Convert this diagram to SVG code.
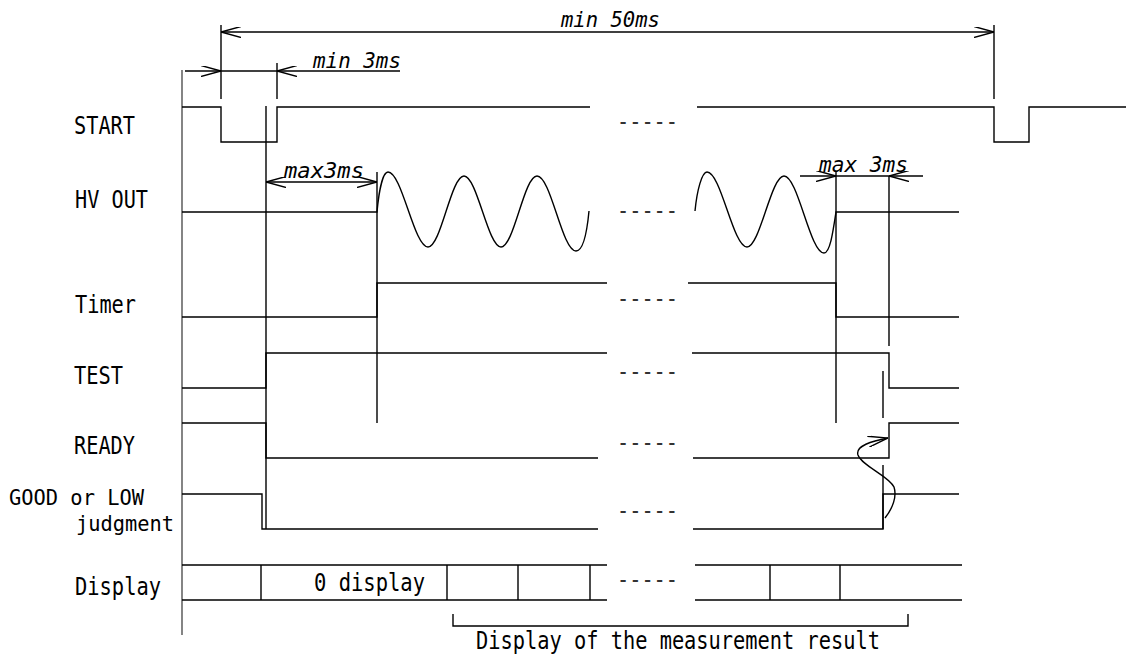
<svg xmlns="http://www.w3.org/2000/svg" width="1126" height="657" viewBox="0 0 1126 657">
<style>
.ln{fill:none;stroke:#000;stroke-width:1.4}
.ax{fill:none;stroke:#666;stroke-width:1.6}
.lbl{font-family:"DejaVu Sans Mono","Liberation Mono",monospace;font-size:24px;fill:#000}
.lbs{font-family:"DejaVu Sans Mono","Liberation Mono",monospace;font-size:22px;fill:#000}
.dim{font-family:"DejaVu Sans Mono","Liberation Mono",monospace;font-size:20.5px;font-style:italic;fill:#000}
.brk{font-family:"DejaVu Sans Mono","Liberation Mono",monospace;font-size:24px;fill:#333}
</style>
<defs>
<marker id="arr" viewBox="0 0 20 11" refX="20" refY="5.5" markerWidth="20" markerHeight="11" markerUnits="userSpaceOnUse" orient="auto-start-reverse">
<path d="M0,0 L20,5.5 L0,11" fill="none" stroke="#000" stroke-width="1.4"/>
</marker>
</defs>
<rect width="1126" height="657" fill="#fff"/>

<g id="labels">
<text class="lbl" x="74" y="134" textLength="61" lengthAdjust="spacingAndGlyphs">START</text>
<text class="lbl" x="75" y="208" textLength="73" lengthAdjust="spacingAndGlyphs">HV OUT</text>
<text class="lbl" x="75" y="313" textLength="61" lengthAdjust="spacingAndGlyphs">Timer</text>
<text class="lbl" x="74" y="384" textLength="49" lengthAdjust="spacingAndGlyphs">TEST</text>
<text class="lbl" x="74" y="454" textLength="61" lengthAdjust="spacingAndGlyphs">READY</text>
<text class="lbs" x="9" y="505" textLength="135" lengthAdjust="spacingAndGlyphs">GOOD or LOW</text>
<text class="lbs" x="76" y="531" textLength="98" lengthAdjust="spacingAndGlyphs">judgment</text>
<text class="lbl" x="75" y="595" textLength="86" lengthAdjust="spacingAndGlyphs">Display</text>
</g>

<g id="axis"><path class="ax" d="M182,70 V635"/></g>

<g id="connectors">
<path class="ln" d="M221,25 V99 M994,25 V99 M277,63 V99"/>
<path class="ln" d="M221,32 H994" marker-start="url(#arr)" marker-end="url(#arr)"/>
<path class="ln" d="M185,71 H221" marker-end="url(#arr)"/>
<path class="ln" d="M221,71 H277"/>
<path class="ln" d="M400,71 H277" marker-end="url(#arr)"/>
<path class="ln" d="M266,182 H377" marker-start="url(#arr)" marker-end="url(#arr)"/>
<path class="ln" d="M800,176 H836" marker-end="url(#arr)"/>
<path class="ln" d="M836,176 H889"/>
<path class="ln" d="M923,176 H889" marker-end="url(#arr)"/>
<path class="ln" d="M266,106 V529 M377,172 V423 M836,172 V423 M889,176 V346 M883,371 V418 M883,465 V529"/>
<path class="ln" d="M885,518 C893,508 897,496 894,487 C889,476 862,466 858,455 C855,446 872,441 888,438" marker-end="url(#arr)"/>
<path class="ln" d="M453,614 V626 H908 V614"/>
</g>

<g id="dims">
<text class="dim" x="561" y="27" textLength="99" lengthAdjust="spacingAndGlyphs">min 50ms</text>
<text class="dim" x="313" y="68" textLength="88" lengthAdjust="spacingAndGlyphs">min 3ms</text>
<text class="dim" x="284" y="178" textLength="80" lengthAdjust="spacingAndGlyphs">max3ms</text>
<text class="dim" x="819" y="172" textLength="89" lengthAdjust="spacingAndGlyphs">max 3ms</text>
</g>

<g id="start">
<path class="ln" d="M182,107 H221 V142 H277 V107 H590 M697,107 H994 V142 H1029 V107 H1126"/>
<text class="brk" x="617" y="130" textLength="61" lengthAdjust="spacingAndGlyphs">-----</text>
</g>

<g id="hvout">
<path class="ln" d="M182,212 H377 C379,190 383,172 388,172 C402,172 414,247 428,247 C441,247 451,176 464,176 C477,176 488,247 501,247 C514,247 524,176 537,176 C551,176 562,251 576,251 C583,251 587,232 589,211"/>
<path class="ln" d="M695,211 C697,190 702,172 707,172 C721,172 733,247 747,247 C760,247 771,176 784,176 C798,176 810,253 824,253 C830,253 833,232 836,212 H959"/>
<text class="brk" x="617" y="219" textLength="61" lengthAdjust="spacingAndGlyphs">-----</text>
</g>

<g id="timer">
<path class="ln" d="M182,317 H377 V283 H607 M688,283 H836 V317 H959"/>
<text class="brk" x="617" y="307" textLength="61" lengthAdjust="spacingAndGlyphs">-----</text>
</g>

<g id="test">
<path class="ln" d="M182,388 H266 V353 H607 M692,353 H889 V388 H959"/>
<text class="brk" x="617" y="380" textLength="61" lengthAdjust="spacingAndGlyphs">-----</text>
</g>

<g id="ready">
<path class="ln" d="M182,423 H266 V458 H598 M693,458 H889 V423 H959"/>
<text class="brk" x="617" y="451" textLength="61" lengthAdjust="spacingAndGlyphs">-----</text>
</g>

<g id="good">
<path class="ln" d="M182,494 H262 V529 H598 M693,529 H883 V494 H959"/>
<text class="brk" x="617" y="519" textLength="61" lengthAdjust="spacingAndGlyphs">-----</text>
</g>

<g id="display">
<path class="ln" d="M182,565 H607 M182,600 H607 M261,565 V600 M447,565 V600 M518,565 V600 M590,565 V600"/>
<path class="ln" d="M695,565 H962 M695,600 H962 M770,565 V600 M840,565 V600"/>
<text class="lbl" x="314" y="591" textLength="111" lengthAdjust="spacingAndGlyphs">0 display</text>
<text class="brk" x="617" y="588" textLength="61" lengthAdjust="spacingAndGlyphs">-----</text>
<text class="lbl" x="476" y="649" textLength="404" lengthAdjust="spacingAndGlyphs">Display of the measurement result</text>
</g>
</svg>
